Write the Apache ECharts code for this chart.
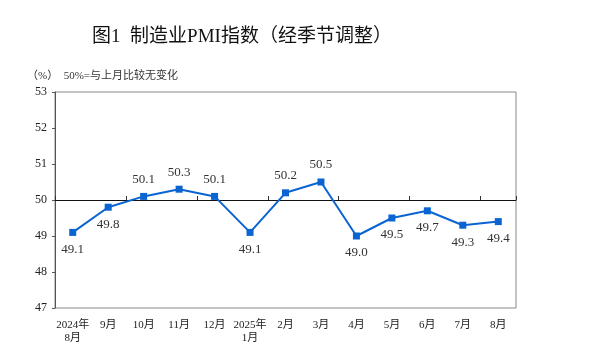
<!DOCTYPE html>
<html><head><meta charset="utf-8">
<script src="https://cdn.jsdelivr.net/npm/echarts@6/dist/echarts.min.js"></script>
<style>html,body{margin:0;padding:0;background:#fff}#c{width:600px;height:363px}</style>
</head><body><div id="c"></div>
<script>
var categories = ['2024年\n8月','9月','10月','11月','12月','2025年\n1月','2月','3月','4月','5月','6月','7月','8月'];
var pmiValues = [49.1, 49.8, 50.1, 50.3, 50.1, 49.1, 50.2, 50.5, 49.0, 49.5, 49.7, 49.3, 49.4];
var labelAbove = [false, false, true, true, true, false, true, true, false, false, false, false, false];
var yTicks = [47, 48, 49, 50, 51, 52, 53];

var serif = '"Liberation Serif","Noto Sans CJK SC",serif';
var chart = echarts.init(document.getElementById('c'));
var data = pmiValues.map(function(v, i){
  return {value: v, label: {position: labelAbove[i] ? 'top' : 'bottom'}};
});
chart.setOption({
  backgroundColor: '#fff',
  animation: false,
  title: [{
    text: '图1  制造业PMI指数（经季节调整）',
    left: 237, top: 23, textAlign: 'center',
    textStyle: {fontFamily: '"Liberation Serif","Noto Sans CJK SC",serif', fontSize: 19, fontWeight: 'normal', color: '#111'}
  },{
    text: '（%）  50%=与上月比较无变化',
    left: 22, top: 66,
    textStyle: {fontFamily: serif, fontSize: 11, fontWeight: 'normal', color: '#333'}
  }],
  grid: [
    {left: 55, top: 92, width: 461, height: 216, show: true, borderColor: '#888', borderWidth: 1, backgroundColor: 'transparent'},
    {left: 55, top: 92, width: 461, height: 108, show: false}
  ],
  xAxis: [{
    type: 'category', gridIndex: 0, data: categories, boundaryGap: true,
    axisLine: {show: false}, axisTick: {show: false},
    axisLabel: {fontFamily: serif, fontSize: 11, color: '#222', margin: 11, lineHeight: 13, interval: 0}
  },{
    type: 'category', gridIndex: 1, data: categories, boundaryGap: true,
    axisLine: {show: true, lineStyle: {color: '#111', width: 1}},
    axisTick: {show: true, inside: true, length: 4, lineStyle: {color: '#333'}},
    axisLabel: {show: false}
  }],
  yAxis: [{
    type: 'value', gridIndex: 0, min: 47, max: 53, interval: 1,
    axisLine: {show: true, lineStyle: {color: '#555'}},
    axisTick: {show: true, length: 3, lineStyle: {color: '#555'}},
    splitLine: {show: false},
    axisLabel: {fontFamily: serif, fontSize: 12, color: '#222', margin: 8}
  },{
    type: 'value', gridIndex: 1, min: 50, max: 53, show: false
  }],
  series: [{
    type: 'line', xAxisIndex: 0, yAxisIndex: 0, data: data,
    symbol: 'rect', symbolSize: 7,
    lineStyle: {color: '#0a64d2', width: 2},
    itemStyle: {color: '#0a64d2'},
    label: {show: true, distance: 7, fontFamily: serif, fontSize: 13, color: '#333',
      formatter: function(p){ return p.value.toFixed(1); }}
  }]
});
</script></body></html>
